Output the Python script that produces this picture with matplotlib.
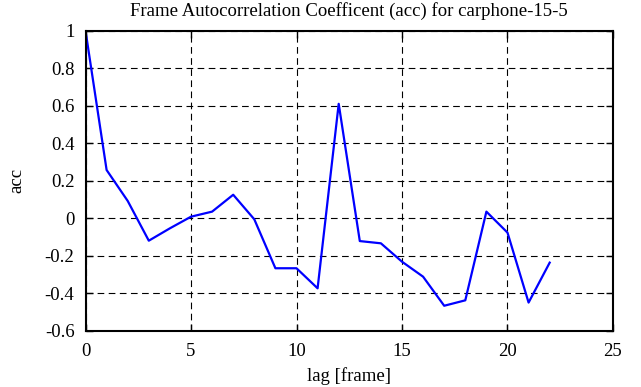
import matplotlib
matplotlib.use("Agg")
import matplotlib.pyplot as plt

# autocorrelation coefficient per lag (frames)
lags = list(range(23))
acc = [1.0, 0.257, 0.092, -0.12, -0.054, 0.008, 0.035, 0.125, -0.006, -0.267,
       -0.267, -0.374, 0.61, -0.122, -0.134, -0.232, -0.312, -0.467, -0.438,
       0.035, -0.077, -0.45, -0.237]

xticks = [0, 5, 10, 15, 20, 25]
yticks = [-0.6, -0.4, -0.2, 0, 0.2, 0.4, 0.6, 0.8, 1]
ytick_labels = ["-0.6", "-0.4", "-0.2", "0", "0.2", "0.4", "0.6", "0.8", "1"]

plt.rcParams["font.family"] = ["Liberation Serif", "DejaVu Serif"]
plt.rcParams["axes.unicode_minus"] = False

fig = plt.figure(figsize=(6.41, 3.87), dpi=100)
ax = fig.add_axes([0.1334, 0.1455, 0.8229, 0.7752])

ax.plot(lags, acc, color="#0000ff", lw=1.6)

ax.set_xlim(0, 25)
ax.set_ylim(-0.6, 1)
ax.set_xticks(xticks)
ax.set_yticks(yticks)
ax.set_yticklabels(ytick_labels)
ax.tick_params(direction="in", length=5, width=1, top=True, right=True,
               labelsize=13.5)
ax.tick_params(axis="x", pad=9)
ax.tick_params(axis="y", pad=8)
ax.grid(True, color="black", ls=(0, (6, 4)), lw=0.8)
for s in ax.spines.values():
    s.set_linewidth(1.5)

ax.set_title("Frame Autocorrelation Coefficent (acc) for carphone-15-5", fontsize=13.5, pad=10.5)
ax.set_xlabel("lag [frame]", fontsize=13.5, labelpad=5)
ax.set_ylabel("acc", fontsize=13.5, labelpad=14)

fig.savefig("out.png", dpi=100)
